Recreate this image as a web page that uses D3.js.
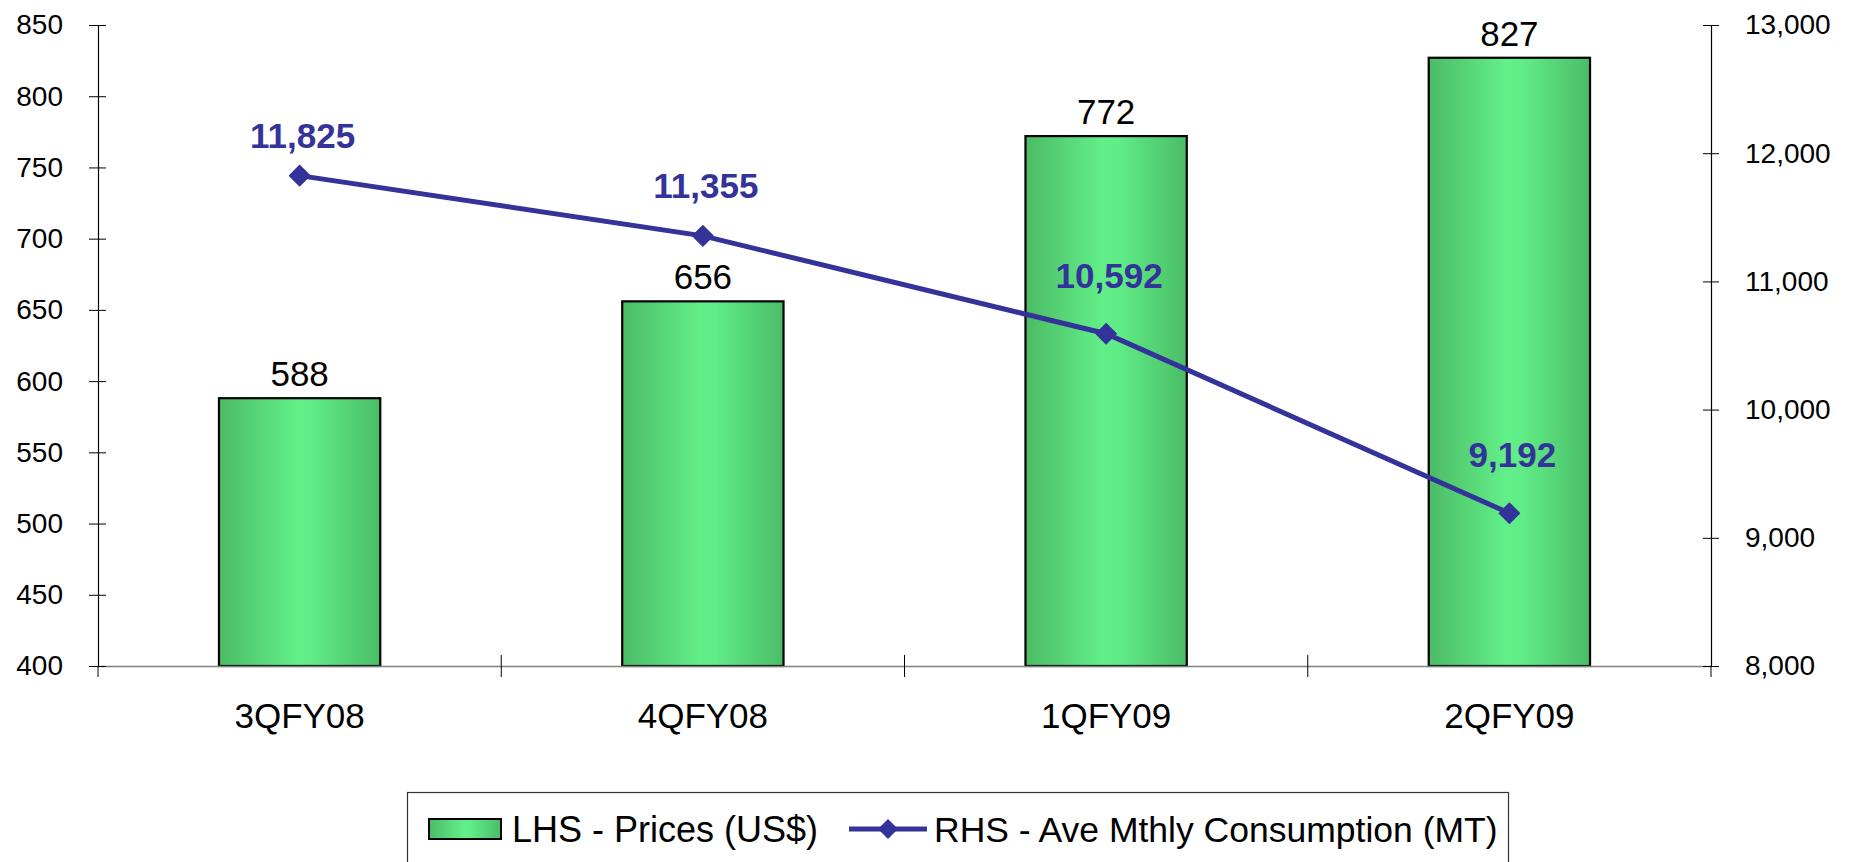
<!DOCTYPE html>
<html>
<head>
<meta charset="utf-8">
<script src="https://cdn.jsdelivr.net/npm/d3@7"></script>
<style>
    html, body { margin: 0; padding: 0; background: #fff; }
    svg { display: block; font-family: Arial, "Liberation Sans", sans-serif; }
</style>
</head>
<body>
<svg id="chart" width="1856" height="862"></svg>
<script>
// chart data
var categories = [ "3QFY08", "4QFY08", "1QFY09", "2QFY09" ];
var prices = [ 588, 656, 772, 827 ];
var consumption = [ 11825, 11355, 10592, 9192 ];
var leftTicks = [ 400, 450, 500, 550, 600, 650, 700, 750, 800, 850 ];
var rightTicks = [ 8000, 9000, 10000, 11000, 12000, 13000 ];
var legendLabels = [ "LHS - Prices (US$)", "RHS - Ave Mthly Consumption (MT)" ];

// label nudges (px above marker) as placed in the original
var lineLabelDy = [ 28, 38, 46, 46 ];

(function () {
    var plotL = 98, plotR = 1711, plotT = 25, plotB = 666;
    var lineColor = "#333399";

    var svg = d3.select( "#chart" );

    var defs = svg.append( "defs" );
    var grad = defs.append( "linearGradient" )
        .attr( "id", "barGrad" )
        .attr( "x1", "0%" ).attr( "x2", "100%" )
        .attr( "y1", "0%" ).attr( "y2", "0%" );
    grad.append( "stop" ).attr( "offset", "0%" ).attr( "stop-color", "#4cbb66" );
    grad.append( "stop" ).attr( "offset", "48%" ).attr( "stop-color", "#62ef88" );
    grad.append( "stop" ).attr( "offset", "58%" ).attr( "stop-color", "#60ec86" );
    grad.append( "stop" ).attr( "offset", "100%" ).attr( "stop-color", "#4bbd67" );

    var x = d3.scaleBand()
        .domain( categories )
        .range( [ plotL, plotR ] )
        .padding( 0 );

    var yL = d3.scaleLinear().domain( [ 400, 850 ] ).range( [ plotB, plotT ] );
    var yR = d3.scaleLinear().domain( [ 8000, 13000 ] ).range( [ plotB, plotT ] );

    var barW = x.bandwidth() * 0.4;
    function cx( d ) { return x( d ) + x.bandwidth() / 2; }

    // bars
    svg.append( "g" ).selectAll( "rect" )
        .data( prices )
        .enter().append( "rect" )
        .attr( "x", function ( d, i ) { return cx( categories[ i ] ) - barW / 2; } )
        .attr( "y", function ( d ) { return yL( d ); } )
        .attr( "width", barW )
        .attr( "height", function ( d ) { return plotB - yL( d ); } )
        .attr( "fill", "url(#barGrad)" )
        .attr( "stroke", "#000" )
        .attr( "stroke-width", 2.2 );

    // x axis
    var gx = svg.append( "g" )
        .attr( "transform", "translate(0," + plotB + ")" )
        .call( d3.axisBottom( x ).tickSize( 0 ).tickFormat( "" ) );
    gx.select( ".domain" ).attr( "stroke", "#808080" ).attr( "stroke-width", 1.3 );

    // category separators
    svg.append( "g" ).selectAll( "line" )
        .data( d3.range( categories.length + 1 ) )
        .enter().append( "line" )
        .attr( "x1", function ( i ) { return plotL + i * x.bandwidth(); } )
        .attr( "x2", function ( i ) { return plotL + i * x.bandwidth(); } )
        .attr( "y1", function ( i ) { return ( i === 0 || i === categories.length ) ? plotB : plotB - 11; } )
        .attr( "y2", plotB + 11 )
        .attr( "stroke", "#000" )
        .attr( "stroke-width", 1 );

    svg.append( "g" ).selectAll( "text" )
        .data( categories )
        .enter().append( "text" )
        .attr( "x", cx )
        .attr( "y", 728 )
        .attr( "text-anchor", "middle" )
        .attr( "font-size", 35 )
        .attr( "fill", "#000" )
        .text( function ( d ) { return d; } );

    // left axis
    var gl = svg.append( "g" )
        .attr( "transform", "translate(" + plotL + ",0)" )
        .call( d3.axisLeft( yL ).tickValues( leftTicks ).tickSize( 0 ).tickPadding( 35 ) );
    gl.select( ".domain" ).attr( "stroke", "#000" ).attr( "stroke-width", 1.2 );
    gl.selectAll( ".tick text" ).attr( "font-size", 28 ).attr( "fill", "#000" )
        .attr( "font-family", "Arial, 'Liberation Sans', sans-serif" );
    gl.selectAll( ".tick" ).append( "line" )
        .attr( "x1", -9 ).attr( "x2", 8 ).attr( "stroke", "#000" );

    // right axis
    var gr = svg.append( "g" )
        .attr( "transform", "translate(" + plotR + ",0)" )
        .call( d3.axisRight( yR ).tickValues( rightTicks ).tickSize( 0 ).tickPadding( 34 )
            .tickFormat( d3.format( "," ) ) );
    gr.select( ".domain" ).attr( "stroke", "#000" ).attr( "stroke-width", 1.2 );
    gr.selectAll( ".tick text" ).attr( "font-size", 28 ).attr( "fill", "#000" )
        .attr( "font-family", "Arial, 'Liberation Sans', sans-serif" );
    gr.selectAll( ".tick" ).append( "line" )
        .attr( "x1", -8 ).attr( "x2", 8 ).attr( "stroke", "#000" );

    // bar labels
    svg.append( "g" ).selectAll( "text" )
        .data( prices )
        .enter().append( "text" )
        .attr( "x", function ( d, i ) { return cx( categories[ i ] ); } )
        .attr( "y", function ( d ) { return yL( d ) - 12; } )
        .attr( "text-anchor", "middle" )
        .attr( "font-size", 35 )
        .attr( "fill", "#000" )
        .text( function ( d ) { return d; } );

    // consumption line
    var line = d3.line()
        .x( function ( d, i ) { return cx( categories[ i ] ); } )
        .y( function ( d ) { return yR( d ); } );

    svg.append( "path" )
        .datum( consumption )
        .attr( "d", line )
        .attr( "fill", "none" )
        .attr( "stroke", lineColor )
        .attr( "stroke-width", 5 );

    var diamond = "M0,-10L10,0L0,10L-10,0Z";
    svg.append( "g" ).selectAll( "path" )
        .data( consumption )
        .enter().append( "path" )
        .attr( "transform", function ( d, i ) {
            return "translate(" + cx( categories[ i ] ) + "," + yR( d ) + ")";
        })
        .attr( "d", diamond )
        .attr( "fill", lineColor )
        .attr( "stroke", lineColor )
        .attr( "stroke-linejoin", "round" )
        .attr( "stroke-width", 1.5 );

    svg.append( "g" ).selectAll( "text" )
        .data( consumption )
        .enter().append( "text" )
        .attr( "x", function ( d, i ) { return cx( categories[ i ] ) + 3; } )
        .attr( "y", function ( d, i ) { return yR( d ) - lineLabelDy[ i ]; } )
        .attr( "text-anchor", "middle" )
        .attr( "font-size", 35 )
        .attr( "font-weight", "bold" )
        .attr( "fill", lineColor )
        .text( function ( d ) { return d3.format( "," )( d ); } );

    // legend
    var lg = svg.append( "g" );
    lg.append( "rect" )
        .attr( "x", 407.5 ).attr( "y", 792.5 )
        .attr( "width", 1101 ).attr( "height", 80 )
        .attr( "fill", "#fff" )
        .attr( "stroke", "#333" )
        .attr( "stroke-width", 1.2 );
    lg.append( "rect" )
        .attr( "x", 429 ).attr( "y", 819 )
        .attr( "width", 72 ).attr( "height", 20 )
        .attr( "fill", "url(#barGrad)" )
        .attr( "stroke", "#000" )
        .attr( "stroke-width", 2 );
    lg.append( "text" )
        .attr( "x", 512 ).attr( "y", 842 )
        .attr( "font-size", 36 )
        .attr( "fill", "#000" )
        .text( legendLabels[ 0 ] );
    lg.append( "line" )
        .attr( "x1", 849 ).attr( "x2", 927 )
        .attr( "y1", 829 ).attr( "y2", 829 )
        .attr( "stroke", lineColor )
        .attr( "stroke-width", 5 );
    lg.append( "path" )
        .attr( "transform", "translate(888,829)" )
        .attr( "d", diamond )
        .attr( "fill", lineColor );
    lg.append( "text" )
        .attr( "x", 934 ).attr( "y", 842 )
        .attr( "font-size", 35.5 )
        .attr( "fill", "#000" )
        .text( legendLabels[ 1 ] );
})();
</script>
</body>
</html>
